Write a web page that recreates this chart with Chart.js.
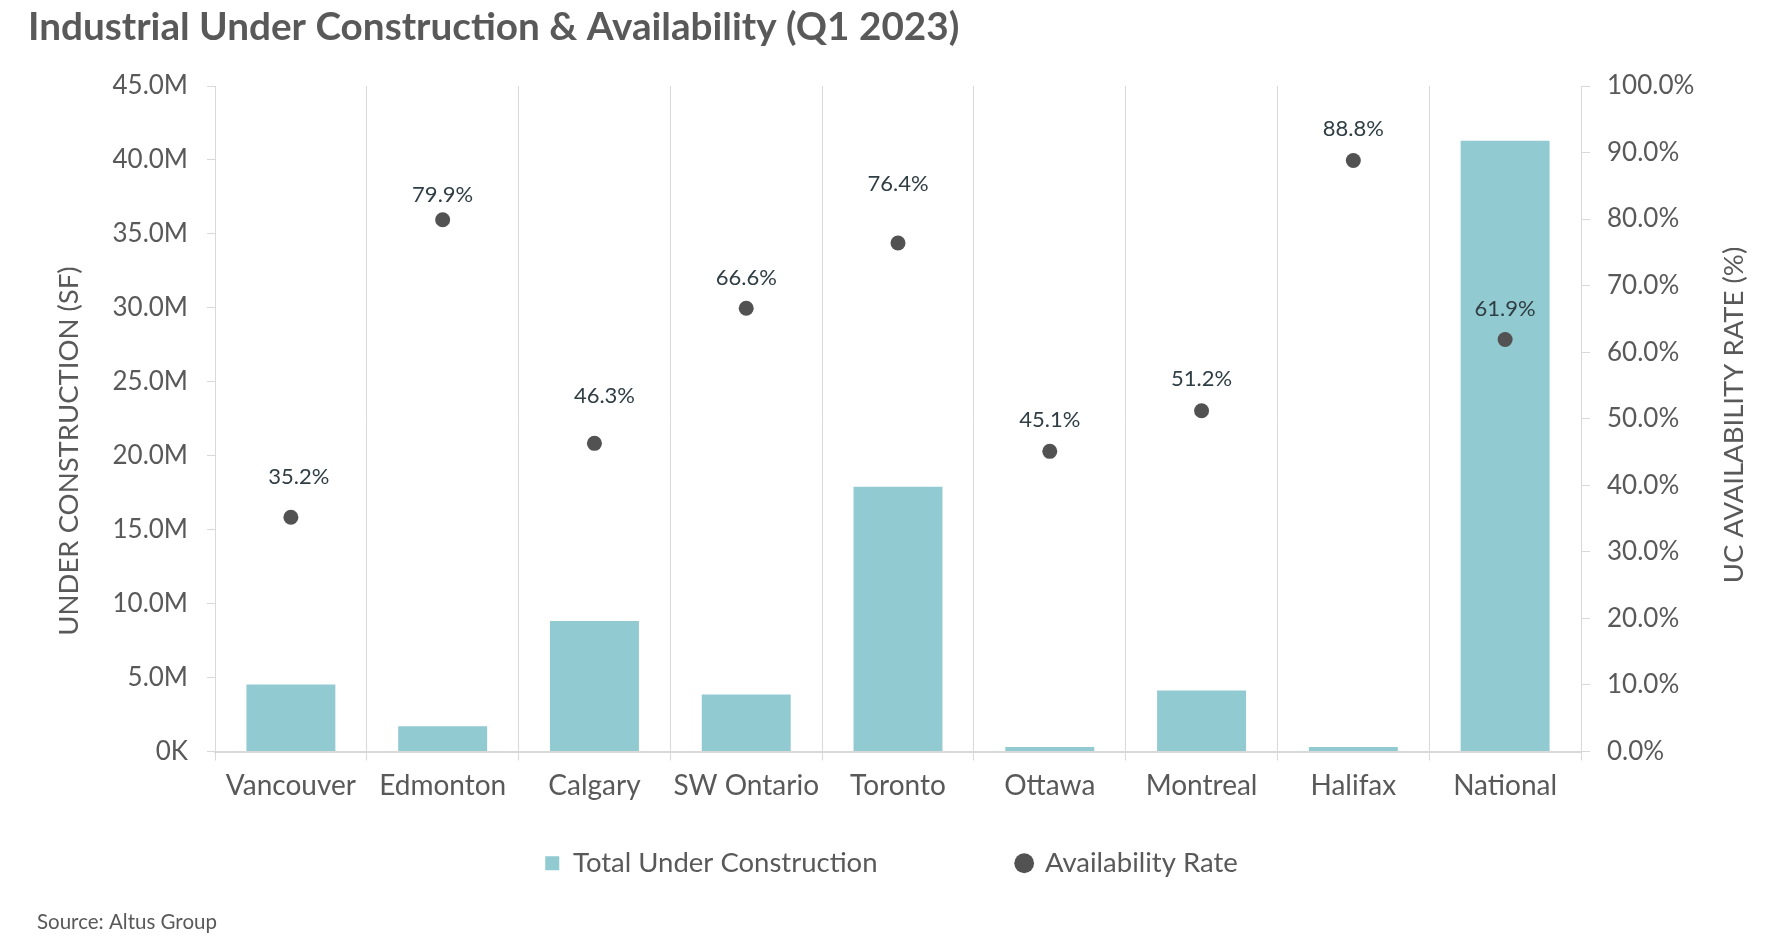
<!DOCTYPE html>
<html>
<head>
<meta charset="utf-8">
<title>Industrial Under Construction &amp; Availability (Q1 2023)</title>
<script src="https://cdn.jsdelivr.net/npm/chart.js@4.4.0/dist/chart.umd.min.js"></script>
<style>
	html, body { margin: 0; padding: 0; background: #ffffff; }
	#wrap { position: relative; width: 1783px; height: 951px; }
</style>
</head>
<body>
<div id="wrap"><canvas id="myChart"></canvas></div>
<script>
// chart data
var chartTitle = 'Industrial Under Construction & Availability (Q1 2023)';
var sourceNote = 'Source: Altus Group';
var leftTitle = 'UNDER CONSTRUCTION (SF)';
var rightTitle = 'UC AVAILABILITY RATE (%)';
var markets = ['Vancouver', 'Edmonton', 'Calgary', 'SW Ontario', 'Toronto', 'Ottawa', 'Montreal', 'Halifax', 'National'];
var underConstruction = [4.53, 1.70, 8.82, 3.85, 17.9, 0.30, 4.12, 0.30, 41.3]; // millions of SF
var availabilityRate = [35.2, 79.9, 46.3, 66.6, 76.4, 45.1, 51.2, 88.8, 61.9]; // percent
var sfTicks = [0, 5, 10, 15, 20, 25, 30, 35, 40, 45];
var rateTicks = [0, 10, 20, 30, 40, 50, 60, 70, 80, 90, 100];

var textGrey = '#595959';
var lineGrey = '#d9d9d9';
var barColor = '#92cad1';
var dotColor = '#525252';

Chart.defaults.font.family = 'Lato';
Chart.defaults.color = textGrey;

// title, axis titles (both read bottom to top) and source note
var headerFooter = {
	id: 'headerFooter',
	afterDraw: function (chart) {
		var ctx = chart.ctx;
		ctx.save();
		ctx.fillStyle = textGrey;
		ctx.textAlign = 'left';
		ctx.textBaseline = 'alphabetic';
		ctx.font = 'bold 38.7px Lato';
		ctx.fillText(chartTitle, 28, 40);
		ctx.font = '20.5px Lato';
		ctx.fillText(sourceNote, 37, 929);

		ctx.font = '27.5px Lato';
		ctx.textAlign = 'center';
		ctx.textBaseline = 'middle';
		ctx.save();
		ctx.translate(69, 451);
		ctx.rotate(-Math.PI / 2);
		ctx.fillText(leftTitle, 0, 0);
		ctx.restore();
		ctx.save();
		ctx.translate(1734, 415);
		ctx.rotate(-Math.PI / 2);
		ctx.fillText(rightTitle, 0, 0);
		ctx.restore();
		ctx.restore();
	}
};

// percent labels above the dots (offsets follow the hand-placed labels)
var rateLabels = {
	id: 'rateLabels',
	afterDatasetsDraw: function (chart, args, opts) {
		var ctx = chart.ctx;
		var meta = chart.getDatasetMeta(1);
		ctx.save();
		ctx.font = '22px Lato';
		ctx.fillStyle = opts.color;
		ctx.textAlign = 'center';
		ctx.textBaseline = 'middle';
		meta.data.forEach(function (pt, i) {
			var v = chart.data.datasets[1].data[i];
			ctx.fillText(v.toFixed(1) + '%', pt.x + opts.dx[i], pt.y - opts.dy[i]);
		});
		ctx.restore();
	}
};

var el = document.getElementById('myChart');
var myChart = new Chart(el, {
	data: {
		labels: markets,
		datasets: [{
			type: 'bar',
			label: 'Total Under Construction',
			data: underConstruction,
			yAxisID: 'y',
			backgroundColor: barColor,
			borderWidth: 0,
			categoryPercentage: 1,
			barPercentage: 0.586,
			order: 1
		}, {
			type: 'line',
			label: 'Availability Rate',
			data: availabilityRate,
			yAxisID: 'y1',
			showLine: false,
			backgroundColor: dotColor,
			borderColor: dotColor,
			borderWidth: 0,
			pointRadius: 7.5,
			pointHoverRadius: 7.5,
			order: 0
		}]
	},
	options: {
		responsive: true,
		maintainAspectRatio: false,
		animation: false,
		layout: { padding: { top: 86, left: 0, right: 0, bottom: 64 } },
		scales: {
			x: {
				grid: { color: lineGrey, offset: true, drawTicks: true, tickLength: 9 },
				border: { display: true, color: lineGrey, width: 2 },
				ticks: { font: { size: 28 }, color: textGrey, padding: 9, maxRotation: 0, autoSkip: false },
				afterFit: function (scale) { scale.height = 73; }
			},
			y: {
				position: 'left',
				min: 0,
				max: 45,
				afterBuildTicks: function (scale) {
					scale.ticks = sfTicks.map(function (v) { return { value: v }; });
				},
				grid: { drawOnChartArea: false, drawTicks: true, tickLength: 8, color: lineGrey },
				border: { display: true, color: lineGrey },
				ticks: {
					font: { size: 26 },
					color: textGrey,
					padding: 19,
					callback: function (v) { return v === 0 ? '0K' : v.toFixed(1) + 'M'; }
				},
				afterFit: function (scale) { scale.width = 215; }
			},
			y1: {
				position: 'right',
				min: 0,
				max: 100,
				afterBuildTicks: function (scale) {
					scale.ticks = rateTicks.map(function (v) { return { value: v }; });
				},
				grid: { drawOnChartArea: false, drawTicks: true, tickLength: 9, color: lineGrey },
				border: { display: true, color: lineGrey },
				ticks: {
					font: { size: 26 },
					color: textGrey,
					padding: 17,
					callback: function (v) { return v.toFixed(1) + '%'; }
				},
				afterFit: function (scale) { scale.width = 202; }
			}
		},
		plugins: {
			title: { display: false },
			tooltip: { enabled: false },
			legend: {
				position: 'bottom',
				labels: {
					usePointStyle: true,
					boxWidth: 14,
					boxHeight: 14,
					padding: 25,
					color: textGrey,
					font: { size: 27.5 },
					generateLabels: function (chart) {
						var items = Chart.defaults.plugins.legend.labels.generateLabels(chart);
						items.sort(function (a, b) { return a.datasetIndex - b.datasetIndex; });
						items[0].pointStyle = 'rect';
						items[1].pointStyle = 'circle';
						// blank item that only keeps the two entries apart
						var gap = {
							text: '\u2003\u2003\u2003',
							fillStyle: 'rgba(0,0,0,0)',
							strokeStyle: 'rgba(0,0,0,0)',
							fontColor: textGrey,
							lineWidth: 0,
							hidden: false,
							pointStyle: 'circle',
							datasetIndex: -1
						};
						return [items[0], gap, items[1]];
					}
				}
			},
			rateLabels: {
				color: '#2f3e44',
				dx: [8, 0, 10, 0, 0, 0, 0, 0, 0],
				dy: [40, 25, 47, 30, 59, 31, 32, 32, 31]
			}
		}
	},
	plugins: [headerFooter, rateLabels]
});
</script>
</body>
</html>
